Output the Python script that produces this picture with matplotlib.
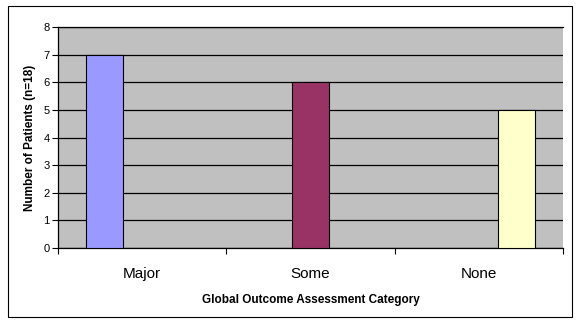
import matplotlib
matplotlib.use('Agg')
import matplotlib.pyplot as plt
from matplotlib.patches import Rectangle

categories = ['Major', 'Some', 'None']
patients = [7, 6, 5]
colors = ['#9999FF', '#993366', '#FFFFCC']
y_ticks = [0, 1, 2, 3, 4, 5, 6, 7, 8]

plt.rcParams['font.family'] = ['Liberation Sans', 'DejaVu Sans']

fig = plt.figure(figsize=(5.81, 3.28), dpi=100)
ax = fig.add_axes([58/581, 80/328, 505/581, 221/328])
ax.set_facecolor('#C0C0C0')

# Excel-style clustered bars: 3 series, gap width 150%
n = len(categories)
w = 1 / (n + 1.5)
for i, (cat, val, col) in enumerate(zip(categories, patients, colors)):
    ax.bar(i + (i - (n - 1) / 2) * w, val, width=w, color=col,
           edgecolor='black', linewidth=0.8, zorder=3)

ax.set_xlim(-0.5, n - 0.5)
ax.set_ylim(0, 8)
ax.set_yticks(y_ticks)
ax.yaxis.grid(True, color='black', linewidth=0.9, zorder=1)
ax.set_axisbelow(True)

ax.set_xticks(range(n))
ax.set_xticklabels(categories, fontsize=11)
ax.tick_params(axis='x', which='major', length=0, pad=14)
ax.set_xticks([k - 0.5 for k in range(n + 1)], minor=True)
ax.tick_params(axis='x', which='minor', length=4, width=0.8, direction='out')
ax.tick_params(axis='y', length=4, width=0.8, labelsize=8, pad=2)

ax.spines['right'].set_visible(False)
ax.spines['top'].set_linewidth(0.9)
ax.spines['left'].set_linewidth(0.9)
ax.spines['bottom'].set_linewidth(0.9)

ax.set_xlabel('Global Outcome Assessment Category', fontsize=8.5,
              fontweight='bold', labelpad=9)
ax.set_ylabel('Number of Patients (n=18)', fontsize=8.5,
              fontweight='bold', labelpad=5)

fig.patches.append(Rectangle((8/581, 1 - 317/328), 564/581, 311/328,
                             transform=fig.transFigure, fill=False,
                             edgecolor='black', linewidth=0.8))

fig.savefig('out.png', dpi=100)
